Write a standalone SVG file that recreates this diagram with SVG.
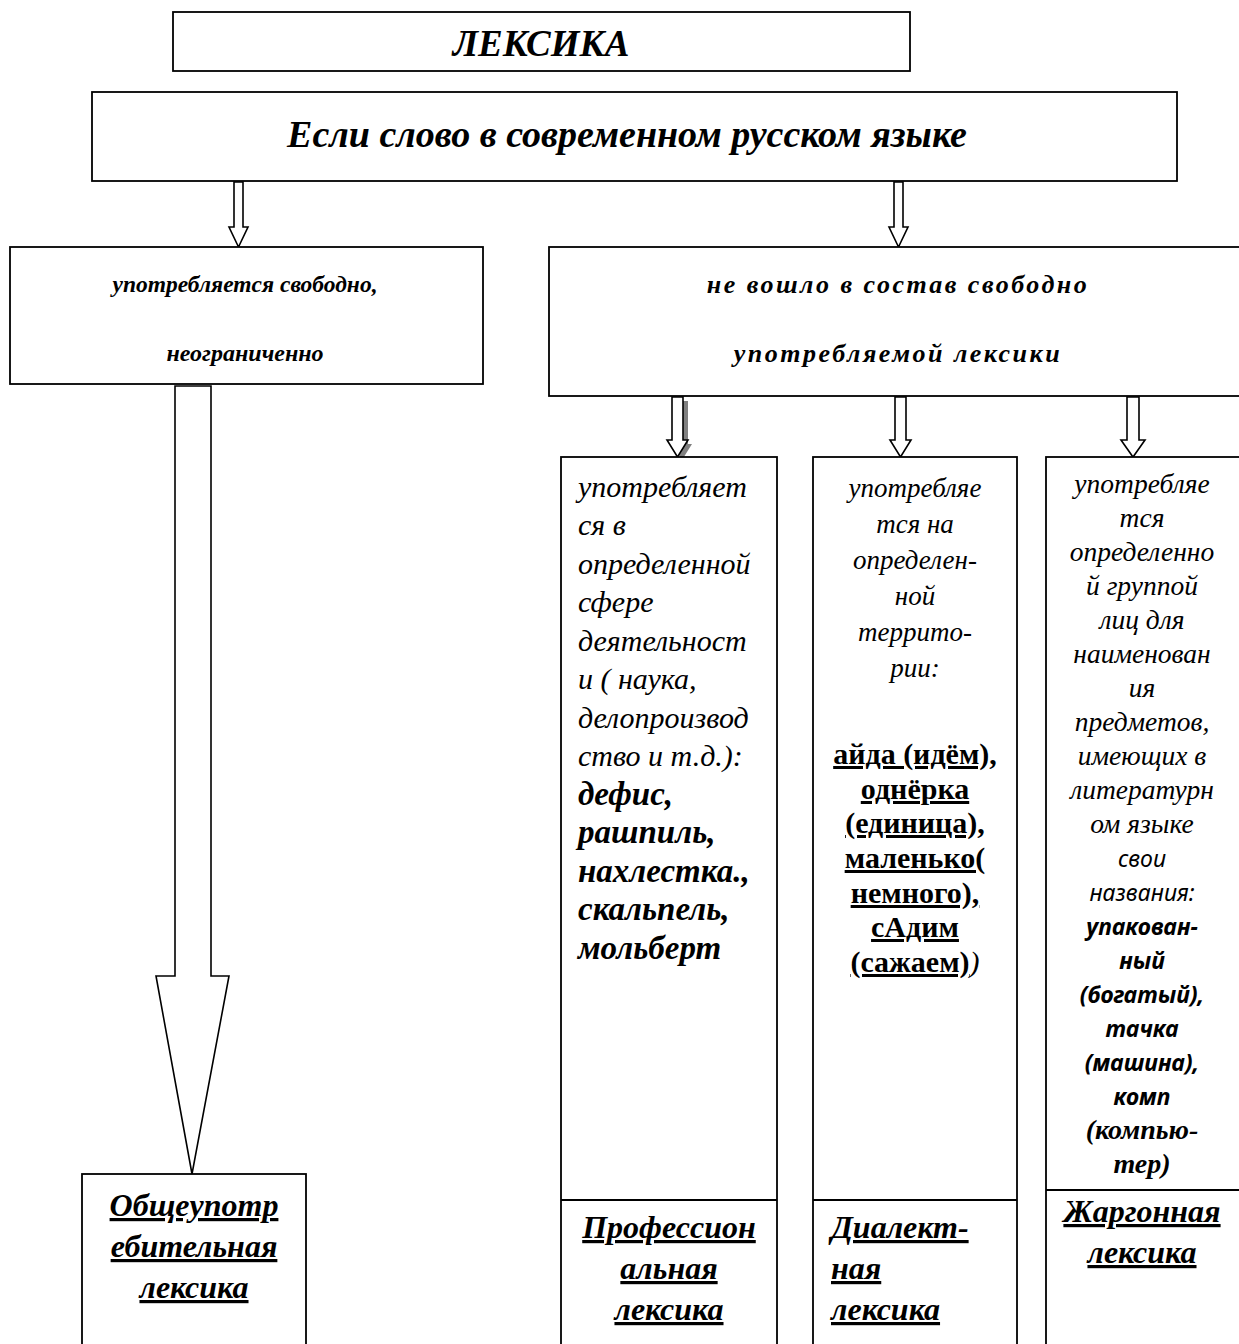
<svg xmlns="http://www.w3.org/2000/svg" width="1239" height="1344" viewBox="0 0 1239 1344">
<style>
.box{fill:#fff;stroke:#000;stroke-width:1.8}
.arr{fill:#fff;stroke:#000;stroke-width:1.6;stroke-linejoin:miter}
.shadow{fill:#808080;stroke:none}
.t{font-family:"Liberation Serif","Times New Roman",serif;fill:#000}
.bi{font-weight:bold;font-style:italic}
.i{font-style:italic}
.b{font-weight:bold}
.u{text-decoration:underline}
.s{font-family:"Noto Sans","Open Sans",sans-serif}
.mid{text-anchor:middle}
</style>
<rect width="1239" height="1344" fill="#fff"/>

<g id="connectors">
  <path class="arr" d="M234,182 V227 H229 L238.5,247 L248,227 H243 V182 Z"/>
  <path class="arr" d="M894,182 V227 H889 L898.5,247 L908,227 H903 V182 Z"/>
  <path class="arr" d="M175,386 V976 H156 L192,1174 L229,976 H211 V386 Z"/>
  <path class="shadow" d="M676,401 V444 H672 L682,460 L692,444 H688 V401 Z"/>
  <path class="arr" d="M672,397 V440 H667 L677.5,457 L688,440 H683 V397 Z"/>
  <path class="arr" d="M895,397 V440 H890 L900.5,457 L911,440 H906 V397 Z"/>
  <path class="arr" d="M1127,397 V440 H1121 L1133,457 L1145,440 H1139 V397 Z"/>
</g>

<g id="n-leksika">
  <rect class="box" x="173" y="12" width="737" height="59"/>
  <text class="t bi mid" x="541" y="56" font-size="37">ЛЕКСИКА</text>
</g>

<g id="n-esli">
  <rect class="box" x="92" y="92" width="1085" height="89"/>
  <text class="t bi mid" x="627" y="147" font-size="38">Если слово в современном русском языке</text>
</g>

<g id="n-svobodno">
  <rect class="box" x="10" y="247" width="473" height="137"/>
  <text class="t bi mid" x="245" y="292" font-size="23.5">употребляется свободно,</text>
  <text class="t bi mid" x="245" y="361" font-size="24">неограниченно</text>
</g>

<g id="n-ne-voshlo">
  <rect class="box" x="549" y="247" width="692" height="149"/>
  <text class="t bi mid" x="898" y="293" font-size="26" letter-spacing="2.5">не вошло в состав свободно</text>
  <text class="t bi mid" x="898" y="362" font-size="26" letter-spacing="2.5">употребляемой лексики</text>
</g>

<g id="n-obsheupotr">
  <rect class="box" x="82" y="1174" width="224" height="180"/>
  <text class="t bi u mid" x="194" y="1216" font-size="32">Общеупотр</text>
  <text class="t bi u mid" x="194" y="1257" font-size="32">ебительная</text>
  <text class="t bi u mid" x="194" y="1298" font-size="32">лексика</text>
</g>

<g id="n-prof">
  <rect class="box" x="561" y="457" width="216" height="900"/>
  <line class="box" x1="561" y1="1200" x2="777" y2="1200"/>
  <g class="t i" font-size="30">
    <text x="578" y="497">употребляет</text>
    <text x="578" y="535">ся в</text>
    <text x="578" y="574">определенной</text>
    <text x="578" y="612">сфере</text>
    <text x="578" y="651">деятельност</text>
    <text x="578" y="689">и ( наука,</text>
    <text x="578" y="728">делопроизвод</text>
    <text x="578" y="766">ство и т.д.):</text>
  </g>
  <g class="t b i" font-size="33">
    <text x="578" y="805">дефис,</text>
    <text x="578" y="843">рашпиль,</text>
    <text x="578" y="882">нахлестка.,</text>
    <text x="578" y="920">скальпель,</text>
    <text x="578" y="959">мольберт</text>
  </g>
  <g class="t bi u mid" font-size="32">
    <text x="669" y="1238">Профессион</text>
    <text x="669" y="1279">альная</text>
    <text x="669" y="1320">лексика</text>
  </g>
</g>

<g id="n-dial">
  <rect class="box" x="813" y="457" width="204" height="900"/>
  <line class="box" x1="813" y1="1200" x2="1017" y2="1200"/>
  <g class="t i mid" font-size="27">
    <text x="915" y="497">употребляе</text>
    <text x="915" y="533">тся на</text>
    <text x="915" y="569">определен-</text>
    <text x="915" y="605">ной</text>
    <text x="915" y="641">террито-</text>
    <text x="915" y="677">рии:</text>
  </g>
  <g class="t b mid" font-size="30">
    <text class="u" x="915" y="764">айда (идём),</text>
    <text class="u" x="915" y="799">однёрка</text>
    <text class="u" x="915" y="833">(единица),</text>
    <text class="u" x="915" y="868">маленько(</text>
    <text class="u" x="915" y="903">немного),</text>
    <text class="u" x="915" y="937">сАдим</text>
    <text x="915" y="972"><tspan class="u">(сажаем)</tspan><tspan font-weight="normal" font-style="italic">)</tspan></text>
  </g>
  <g class="t bi u" font-size="32">
    <text x="831" y="1238">Диалект-</text>
    <text x="831" y="1279">ная</text>
    <text x="831" y="1320">лексика</text>
  </g>
</g>

<g id="n-zhargon">
  <rect class="box" x="1046" y="457" width="200" height="900"/>
  <line class="box" x1="1046" y1="1190" x2="1246" y2="1190"/>
  <g class="t i mid" font-size="27.5">
    <text x="1142" y="493">употребляе</text>
    <text x="1142" y="527">тся</text>
    <text x="1142" y="561">определенно</text>
    <text x="1142" y="595">й группой</text>
    <text x="1142" y="629">лиц для</text>
    <text x="1142" y="663">наименован</text>
    <text x="1142" y="697">ия</text>
    <text x="1142" y="731">предметов,</text>
    <text x="1142" y="765">имеющих в</text>
    <text x="1142" y="799">литературн</text>
    <text x="1142" y="833">ом языке</text>
  </g>
  <g class="s i mid" font-size="23" fill="#000">
    <text x="1142" y="867">свои</text>
    <text x="1142" y="901">названия:</text>
  </g>
  <g class="s i b mid" font-size="23" fill="#000">
    <text x="1142" y="935">упакован-</text>
    <text x="1142" y="969">ный</text>
    <text x="1142" y="1003">(богатый),</text>
    <text x="1142" y="1037">тачка</text>
    <text x="1142" y="1071">(машина),</text>
    <text x="1142" y="1105">комп</text>
  </g>
  <g class="t bi mid" font-size="28">
    <text x="1142" y="1139">(компью-</text>
    <text x="1142" y="1173">тер)</text>
  </g>
  <g class="t bi u mid" font-size="32">
    <text x="1142" y="1222">Жаргонная</text>
    <text x="1142" y="1263">лексика</text>
  </g>
</g>
</svg>
